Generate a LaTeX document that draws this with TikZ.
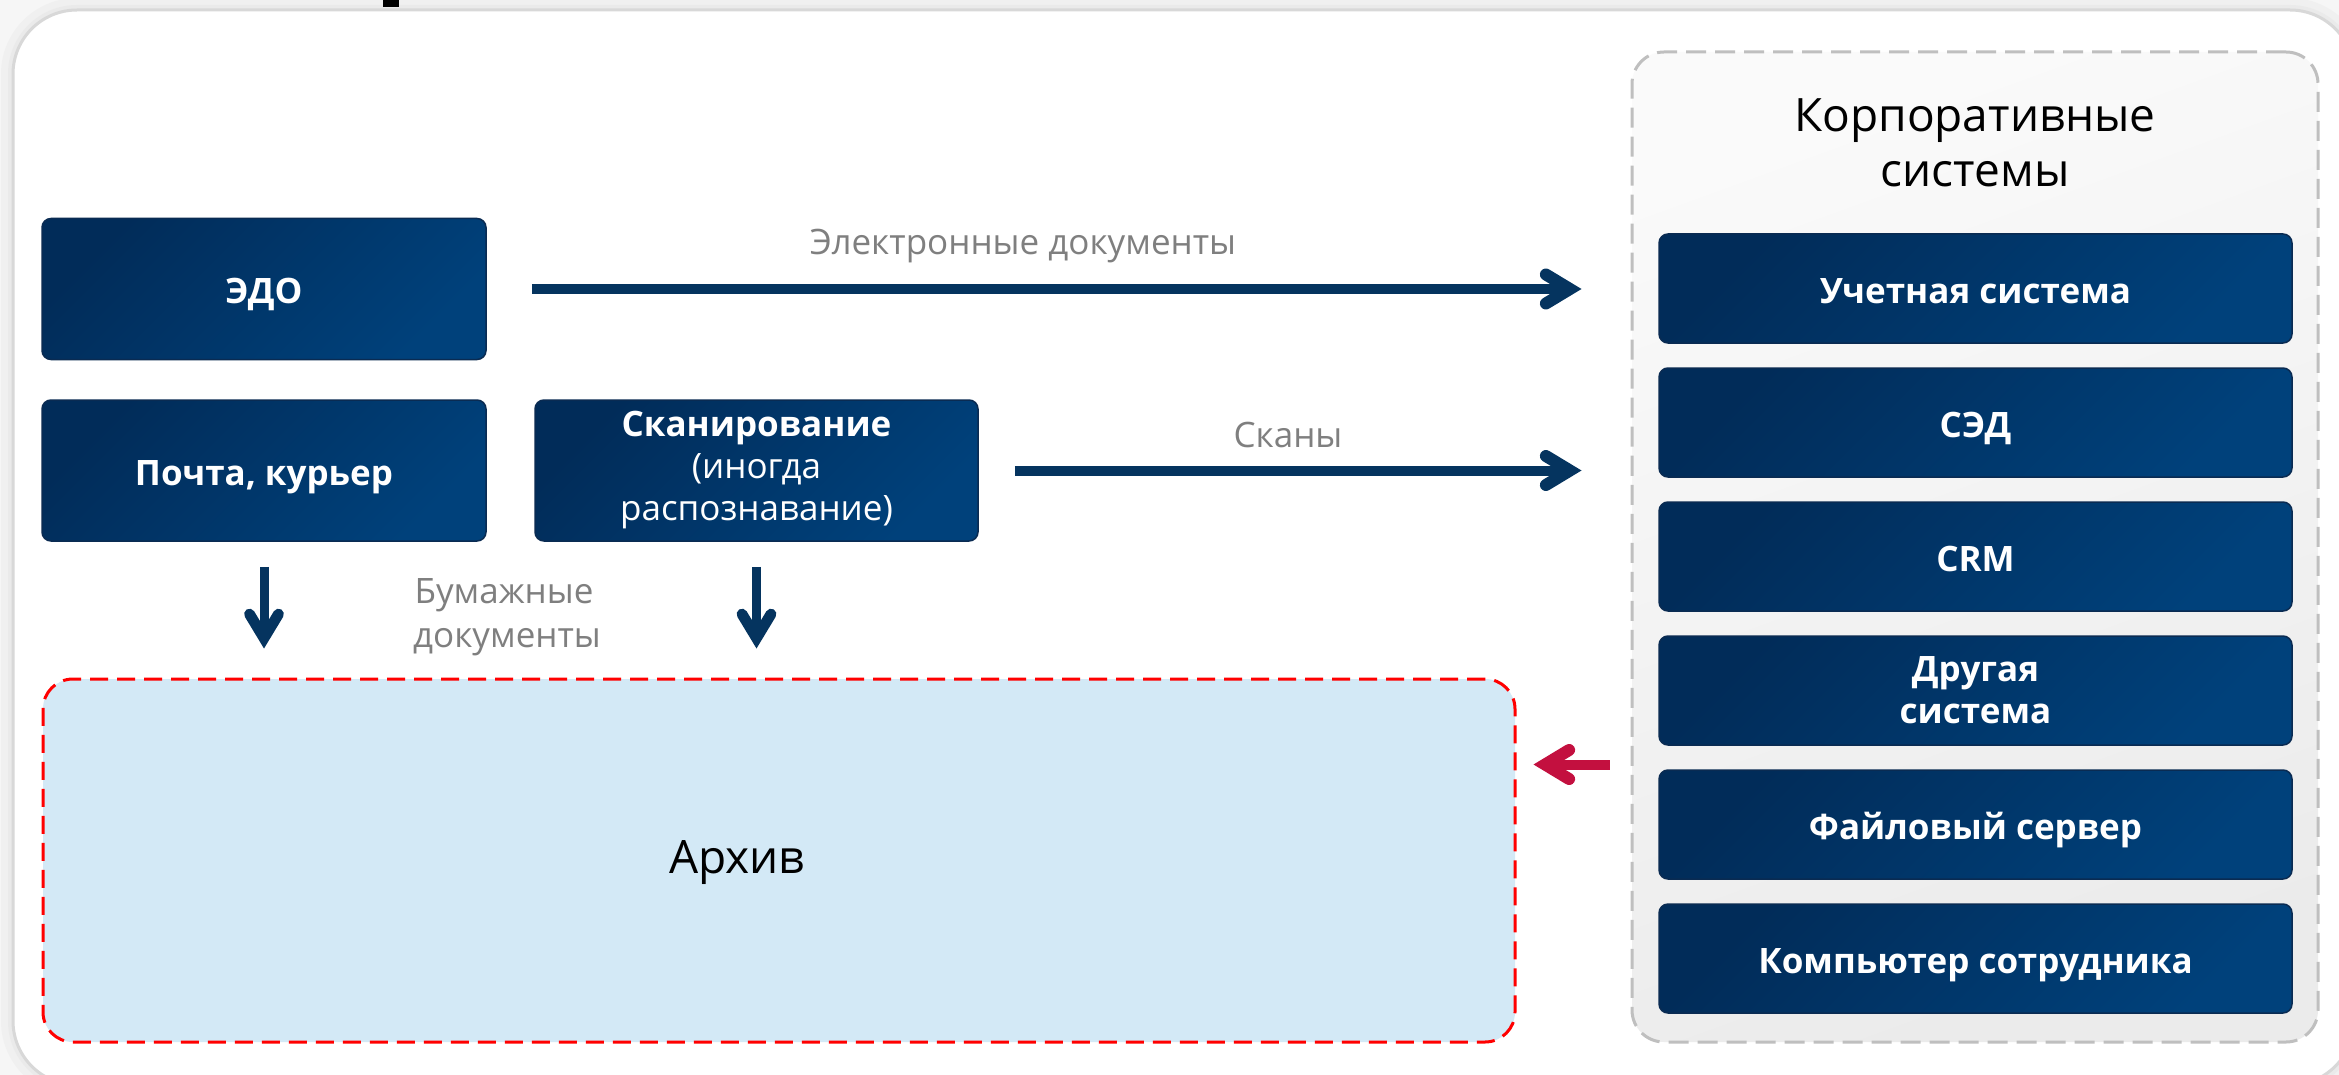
\documentclass[tikz,border=0pt]{standalone}
\usepackage{fontspec}
\setmainfont{Open Sans}
\usetikzlibrary{arrows.meta}

\pgfdeclarearrow{
  name = Chev,
  defaults = {length = 24pt, width = 29pt, line width = +0pt 1.2 1},
  setup code = {
    \pgfmathsetlengthmacro\chevE{0.5*\pgfarrowlinewidth/sin(atan(0.5*\pgfarrowwidth/\pgfarrowlength))}
    \pgfmathsetlengthmacro\chevX{-\chevE-\pgfarrowlength}
    \pgfmathsetlengthmacro\chevB{\chevX-0.5*\pgfarrowlinewidth}
    \pgfmathsetlengthmacro\chevV{-\chevE}
    \pgfmathsetlengthmacro\chevH{0.5*\pgfarrowwidth}
    \pgfmathsetlengthmacro\chevHH{0.5*\pgfarrowwidth+0.5*\pgfarrowlinewidth}
    \pgfarrowssettipend{0pt}
    \pgfarrowssetlineend{\chevV}
    \pgfarrowssetbackend{\chevB}
    \pgfarrowshullpoint{0pt}{0pt}
    \pgfarrowsupperhullpoint{\chevB}{\chevHH}
    \pgfarrowssave\chevX
    \pgfarrowssave\chevV
    \pgfarrowssave\chevH
    \pgfarrowssavethe\pgfarrowlinewidth
  },
  drawing code = {
    \pgfsetdash{}{0pt}
    \pgfsetlinewidth{\pgfarrowlinewidth}
    \pgfsetroundcap
    \pgfsetmiterjoin
    \pgfpathmoveto{\pgfqpoint{\chevX}{\chevH}}
    \pgfpathlineto{\pgfqpoint{\chevV}{0pt}}
    \pgfpathlineto{\pgfqpoint{\chevX}{-\chevH}}
    \pgfusepathqstroke
  },
  parameters = {\the\pgfarrowlength,\the\pgfarrowwidth,\the\pgfarrowlinewidth}
}

\definecolor{pageBg}{HTML}{F6F6F6}
\definecolor{haloA}{HTML}{F0F0F0}
\definecolor{haloB}{HTML}{EAEAEA}
\definecolor{frameC}{HTML}{D8D8D8}
\definecolor{navyA}{HTML}{012C59}
\definecolor{navyM}{HTML}{003D76}
\definecolor{navyB}{HTML}{00417B}
\definecolor{navyEdge}{HTML}{0A2B52}
\definecolor{arrowBlue}{HTML}{05345F}
\definecolor{arrowRed}{HTML}{C3103F}
\definecolor{lblGray}{HTML}{7F7F7F}
\definecolor{archFill}{HTML}{D3E9F6}
\definecolor{archRed}{HTML}{FF0000}
\definecolor{dashGray}{HTML}{BFBFBF}
\definecolor{corpTop}{HTML}{FAFAFA}
\definecolor{corpBot}{HTML}{EBEBEB}

\newcommand\fBox{\fontsize{35}{42}\selectfont\bfseries}
\newcommand\fLbl{\fontsize{35}{44}\selectfont}
\newcommand\fBig{\fontsize{46}{55}\selectfont}

\begin{document}
\begin{tikzpicture}[x=1pt,y=-1pt,
  navybox/.style={draw=navyEdge, line width=1.5pt, rounded corners=9pt,
    top color=navyA, middle color=navyM, bottom color=navyB, shading angle=45,
    text=white, font=\fBox, inner sep=0pt, align=center},
  oneline/.style={text height=30pt, text depth=0pt},
  leftbox/.style={navybox, minimum width=444pt, minimum height=141pt},
  sysbox/.style={navybox, minimum width=633pt, minimum height=109pt},
  corpbox/.style={draw=dashGray, line width=3pt, dash pattern=on 20pt off 9pt,
    rounded corners=32pt, top color=corpTop, bottom color=corpBot, shading angle=20,
    minimum width=686pt, minimum height=990pt, inner sep=0pt},
  archbox/.style={draw=archRed, line width=3pt, dash pattern=on 18pt off 9pt,
    rounded corners=30pt, fill=archFill, minimum width=1472pt, minimum height=363pt, inner sep=0pt},
  lbl/.style={font=\fLbl, text=lblGray, inner sep=0pt},
  big/.style={font=\fBig, text=black, inner sep=0pt},
  bluearrow/.style={draw=arrowBlue, line width=10pt, -{Chev}},
  downarrow/.style={draw=arrowBlue, line width=9pt, -{Chev}},
  redarrow/.style={draw=arrowRed, line width=10pt, -{Chev}}
]
\useasboundingbox (0,0) rectangle (2339,1075);
\fill[pageBg] (0,0) rectangle (2339,1075);
% outer frame with soft halo
\draw[haloA, line width=24pt, rounded corners=64pt] (13,10) rectangle (2354,1085);
\draw[haloB, line width=10pt, rounded corners=64pt] (13,10) rectangle (2354,1085);
\draw[fill=white, draw=frameC, line width=3pt, rounded corners=64pt] (13,10) rectangle (2354,1085);
\fill[black] (383,0) rectangle (399,7);

% corporate systems container
\node[corpbox] (corp) at (1975,547) {};
\node[big, anchor=base] (corpt1) at (1975,132) {Корпоративные};
\node[big, anchor=base] (corpt2) at (1975,187) {системы};

\node[sysbox, oneline] (s1) at (1975.5,288.5) {Учетная система};
\node[sysbox, oneline] (s2) at (1975.5,422.5) {СЭД};
\node[sysbox, oneline] (s3) at (1975.5,556.5) {CRM};
\node[sysbox] (s4) at (1975.5,690.5) {Другая\\система};
\node[sysbox, oneline] (s5) at (1975.5,824.5) {Файловый сервер};
\node[sysbox, oneline] (s6) at (1975.5,958.5) {Компьютер сотрудника};

% archive
\node[archbox] (arch) at (779,860.5) {};
\node[big, anchor=base] (archt) at (737,873) {Архив};

% sources
\node[leftbox, oneline] (edo) at (264,289) {ЭДО};
\node[leftbox, oneline] (pochta) at (264,470.5) {Почта, курьер};
\node[leftbox, minimum width=443pt] (scan) at (756.5,470.5) {Сканирование\\\mdseries(иногда\\\mdseries распознавание)};

% labels
\node[lbl, anchor=base] (lel) at (1023,255) {Электронные документы};
\node[lbl, anchor=base] (lsc) at (1288,447) {Сканы};
\node[lbl, anchor=base] (lpap1) at (504,603) {Бумажные};
\node[lbl, anchor=base] (lpap2) at (507,647) {документы};

% connectors
\draw[bluearrow, shorten <=45pt, shorten >=49pt] (edo.east) -- (edo.east -| corp.west);
\draw[bluearrow, shorten <=36pt, shorten >=49pt] (scan.east) -- (scan.east -| corp.west);
\draw[downarrow, shorten <=25pt, shorten >=29pt] (pochta.south) -- (pochta.south |- arch.north);
\draw[downarrow, shorten <=25pt, shorten >=29pt] (scan.south) -- (scan.south |- arch.north);
\coordinate (ry) at (1570,764.5);
\draw[redarrow, shorten <=21pt, shorten >=17pt] (corp.west |- ry) -- (arch.east |- ry);
\end{tikzpicture}
\end{document}
